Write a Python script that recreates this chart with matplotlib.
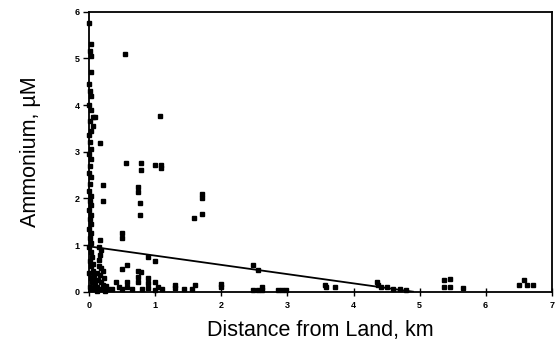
import matplotlib
matplotlib.use("Agg")
from matplotlib import pyplot as plt

# distance from land (km) and ammonium (uM)
dist = [0.0, 0.02, 0.01, 0.02, 0.03, 0.0, 0.01, 0.03, 0.0, 0.02, 0.05, 0.08,
        0.01, 0.05, 0.02, 0.0, 0.01, 0.02, 0.0, 0.02, 0.01, 0.0, 0.02, 0.01,
        0.0, 0.02, 0.01, 0.03, 0.0, 0.02, 0.01, 0.03, 0.0, 0.02, 0.01, 0.03,
        0.0, 0.02, 0.04, 0.01, 0.03, 0.05, 0.0, 0.02, 0.04, 0.01, 0.03, 0.06,
        0.07, 0.08, 0.06, 0.09,
        0.16, 0.15, 0.17, 0.16, 0.15, 0.14, 0.18, 0.2, 0.12, 0.16, 0.22, 0.13,
        0.18, 0.21, 0.25, 0.11, 0.15, 0.2, 0.24, 0.28, 0.12, 0.2, 0.2, 0.16,
        0.54, 1.07, 0.55, 0.78, 0.78, 0.73, 0.73, 0.77, 0.77, 0.99, 1.08, 1.08,
        1.59, 1.71, 1.71, 1.71, 0.49, 0.49, 0.89, 1.0, 0.57, 0.49, 0.74, 0.79,
        0.73, 0.73, 0.89, 0.89, 0.89, 1.0, 1.04, 0.4, 0.45, 0.5, 0.57, 0.57,
        0.35, 0.65, 0.8, 1.3, 1.3, 1.44, 1.55, 1.6, 2.0, 2.0, 2.48, 2.56,
        2.48, 2.56, 2.62, 2.62, 2.86, 2.91, 2.98, 3.57, 3.59, 3.72, 4.35, 4.37,
        4.42, 4.5, 4.6, 4.7, 4.8, 5.37, 5.46, 5.37, 5.46, 5.65, 6.5, 6.58,
        6.63, 6.71, 1.1, 1.0]
nh4 = [5.75, 5.3, 5.15, 5.05, 4.7, 4.45, 4.3, 4.2, 4.0, 3.9, 3.75, 3.75,
       3.65, 3.55, 3.45, 3.35, 3.2, 3.05, 2.95, 2.85, 2.7, 2.55, 2.45, 2.3,
       2.15, 2.05, 1.95, 1.85, 1.75, 1.65, 1.55, 1.45, 1.35, 1.25, 1.15, 1.05,
       0.95, 0.85, 0.75, 0.65, 0.55, 0.45, 0.4, 0.3, 0.2, 0.1, 0.05, 0.6,
       0.35, 0.15, 0.05, 0.25,
       1.1, 0.95, 0.9, 0.78, 0.68, 0.55, 0.5, 0.45, 0.4, 0.35, 0.3, 0.25,
       0.2, 0.15, 0.12, 0.1, 0.05, 0.05, 0.02, 0.05, 0.02, 2.28, 1.95, 3.18,
       5.09, 3.76, 2.76, 2.76, 2.6, 2.24, 2.14, 1.89, 1.64, 2.71, 2.71, 2.66,
       1.58, 2.1, 2.0, 1.66, 1.25, 1.14, 0.75, 0.66, 0.57, 0.49, 0.45, 0.43,
       0.32, 0.2, 0.29, 0.19, 0.08, 0.2, 0.1, 0.2, 0.1, 0.05, 0.2, 0.1,
       0.05, 0.05, 0.05, 0.15, 0.07, 0.05, 0.05, 0.15, 0.17, 0.1, 0.57, 0.47,
       0.03, 0.03, 0.1, 0.03, 0.03, 0.03, 0.03, 0.14, 0.1, 0.1, 0.2, 0.15,
       0.1, 0.1, 0.05, 0.05, 0.03, 0.25, 0.27, 0.1, 0.1, 0.08, 0.15, 0.24,
       0.15, 0.15, 0.05, 0.03]

# regression line end points
trend_dist = [0.0, 4.9]
trend_nh4 = [0.97, 0.0]

xticks = [0, 1, 2, 3, 4, 5, 6, 7]
yticks = [0, 1, 2, 3, 4, 5, 6]

plt.rcParams['font.family'] = ['Liberation Sans', 'DejaVu Sans']

fig = plt.figure(figsize=(5.56, 3.41), dpi=100)
ax = fig.add_axes([0.1606, 0.1446, 0.8317, 0.8211])

ax.plot(dist, nh4, 's', color='black', markersize=2.4, clip_on=False, zorder=3)
ax.plot(trend_dist, trend_nh4, '-', color='black', linewidth=1.3)

ax.set_xlim(0, 7)
ax.set_ylim(0, 6)
ax.set_xticks(xticks)
ax.set_yticks(yticks)
ax.tick_params(axis='x', direction='inout', length=6, width=1, labelsize=6.5, pad=4)
ax.tick_params(axis='y', direction='out', length=4, width=1, labelsize=6.5, pad=3)
for lab in ax.get_xticklabels() + ax.get_yticklabels():
    lab.set_fontweight('bold')
for s in ax.spines.values():
    s.set_linewidth(1.3)

ax.set_xlabel('Distance from Land, km', fontsize=15.5, labelpad=7)
ax.set_ylabel('Ammonium, \u00b5M', fontsize=15.5, labelpad=24)

fig.savefig('out.png', dpi=100)
